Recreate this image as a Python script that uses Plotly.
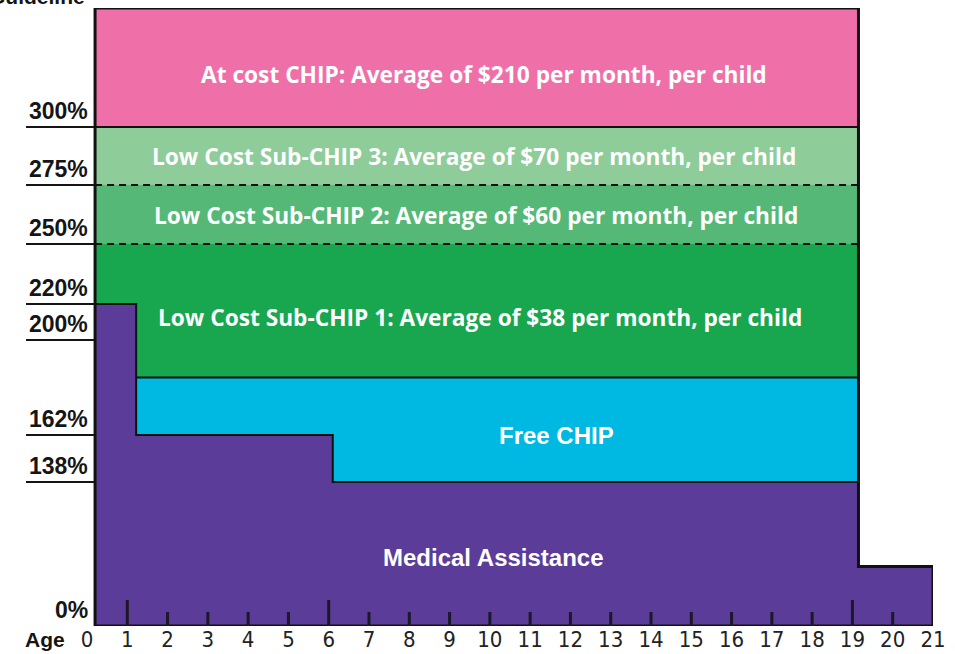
import numpy as np
import plotly.graph_objects as go

# ---- data -------------------------------------------------------------
ages = list(range(0, 22))                       # x tick labels
long_tick_ages = [1, 6, 19]                      # eligibility break ages
short_tick_ages = [a for a in range(1, 21) if a not in long_tick_ages]

# y scale (poverty-guideline %) is drawn non-linearly in the original
scale_pct = [0, 138, 162, 200, 220, 250, 275, 300, 350]
scale_pos = [0, 144, 191, 286, 322, 382, 441, 499, 618]
ylabels = ["0%", "138%", "162%", "200%", "220%", "250%", "275%", "300%"]
ylabel_pct = [0, 138, 162, 200, 220, 250, 275, 300]

# program boundaries
age_start, age_infant, age_child, age_end, age_max = 0.2, 1.22, 6.1, 19.15, 21
top_pct = 350
ma_infant, ma_young, ma_child, ma_adult = 220, 162, 138, 57
free_chip_top = 185
sub1_top, sub2_top, sub3_top = 250, 275, 300

band_names = [
    "At cost CHIP: Average of $210 per month, per child",
    "Low Cost Sub-CHIP 3: Average of $70 per month, per child",
    "Low Cost Sub-CHIP 2: Average of $60 per month, per child",
    "Low Cost Sub-CHIP 1: Average of $38 per month, per child",
    "Free CHIP",
    "Medical Assistance",
]
colors = {
    "pink": "#EF6FA8",
    "lgreen": "#8ECC99",
    "mgreen": "#55B877",
    "green": "#18A64F",
    "cyan": "#00B9E2",
    "purple": "#5B3C98",
}


def Y(p):
    return float(np.interp(p, scale_pct, scale_pos))


def poly(xs, ps):
    return list(xs) + [xs[0]], [Y(p) for p in ps] + [Y(ps[0])]


fig = go.Figure()


def add_fill(xs, ps, color):
    x, y = poly(xs, ps)
    fig.add_trace(go.Scatter(x=x, y=y, mode="lines", fill="toself",
                             fillcolor=color, line=dict(width=0),
                             hoverinfo="skip", showlegend=False))


def add_line(xs, ps, width=2, dash="solid", color="#111"):
    fig.add_trace(go.Scatter(x=list(xs), y=[Y(p) for p in ps], mode="lines",
                             line=dict(color=color, width=width, dash=dash),
                             hoverinfo="skip", showlegend=False))


# fills
add_fill([age_start, age_end, age_end, age_start], [sub3_top, sub3_top, top_pct, top_pct], colors["pink"])
add_fill([age_start, age_end, age_end, age_start], [sub2_top, sub2_top, sub3_top, sub3_top], colors["lgreen"])
add_fill([age_start, age_end, age_end, age_start], [sub1_top, sub1_top, sub2_top, sub2_top], colors["mgreen"])
add_fill([age_start, age_end, age_end, age_start], [0, 0, sub1_top, sub1_top], colors["green"])
add_fill([age_infant, age_end, age_end, age_infant], [0, 0, free_chip_top, free_chip_top], colors["cyan"])
ma_x = [age_start, age_start, age_infant, age_infant, age_child, age_child, age_end, age_end, age_max, age_max]
ma_p = [0, ma_infant, ma_infant, ma_young, ma_young, ma_child, ma_child, ma_adult, ma_adult, 0]
add_fill(ma_x, ma_p, colors["purple"])

# outlines
add_line([age_infant, age_end], [free_chip_top, free_chip_top])
add_line(ma_x[1:9], ma_p[1:9])
add_line([age_start, age_end], [sub3_top, sub3_top])
add_line([age_start, age_end], [sub2_top, sub2_top], dash="7px,5px")
add_line([age_start, age_end], [sub1_top, sub1_top], dash="7px,5px")
add_line([age_start, age_start, age_end, age_end, age_max, age_max, age_start],
         [0, top_pct, top_pct, ma_adult, ma_adult, 0, 0], width=3)

# band labels
band_font = dict(family="'Open Sans', 'Noto Sans', sans-serif", size=22.7, color="white")
arial_font = dict(family="'Liberation Sans', Arial, sans-serif", size=24, color="white")
band_x = [9.85, 9.6, 9.65, 9.75, 11.65, 10.1]
band_y = [
    Y(top_pct) - 66,
    (Y(sub2_top) + Y(sub3_top)) / 2,
    (Y(sub1_top) + Y(sub2_top)) / 2 - 1,
    (Y(ma_infant) + Y(200)) / 2 + 5,
    Y(ma_young),
    Y(ma_adult) + 9,
]
band_fonts = [band_font] * 4 + [arial_font] * 2
for name, bx, by, f in zip(band_names, band_x, band_y, band_fonts):
    fig.add_annotation(x=bx, y=by, xref="x", yref="y", text="<b>%s</b>" % name,
                       showarrow=False, font=f, xanchor="center", yanchor="middle")

# y labels with underlines
for lab, p in zip(ylabels, ylabel_pct):
    fig.add_annotation(x=0, y=Y(p), xref="paper", yref="y", text="<b>%s</b>" % lab,
                       showarrow=False, xanchor="right", yanchor="bottom", xshift=3, yshift=1,
                       font=dict(family="'Liberation Sans', Arial, sans-serif", size=23, color="#151515"))
    if p > 0:
        fig.add_shape(type="line", xref="paper", yref="y", xsizemode="pixel", xanchor=0,
                      x0=-61, x1=7, y0=Y(p), y1=Y(p), line=dict(color="#151515", width=2))

# partially cut title at top
fig.add_annotation(x=0, y=1, xref="paper", yref="paper", text="<b>Guideline</b>",
                   showarrow=False, xanchor="right", yanchor="bottom", xshift=0, yshift=-2,
                   font=dict(family="'Liberation Sans Narrow', 'Liberation Sans', Arial, sans-serif",
                             size=21, color="#151515"))

# Age label
fig.add_annotation(x=0, y=0, xref="paper", yref="paper", text="<b>Age</b>", showarrow=False,
                   xanchor="right", yanchor="middle", xshift=-20, yshift=-13,
                   font=dict(family="'Liberation Sans Narrow', 'Liberation Sans', Arial, sans-serif",
                             size=21, color="#151515"))

# tick marks
for a in short_tick_ages + long_tick_ages:
    ln = 26 if a in long_tick_ages else 14
    fig.add_shape(type="line", xref="x", yref="y", ysizemode="pixel", yanchor=0,
                  x0=a, x1=a, y0=0, y1=ln, line=dict(color="#1c1828", width=3))

fig.update_layout(
    width=955, height=654,
    margin=dict(l=87, r=22, t=8, b=28, autoexpand=False),
    plot_bgcolor="white", paper_bgcolor="white",
    xaxis=dict(range=[0, 21], tickvals=ages, ticktext=[str(a) for a in ages],
               showgrid=False, zeroline=False, showline=False, ticks="",
               automargin=False, ticklabelstandoff=-2,
               tickfont=dict(family="'Liberation Sans Narrow', 'DejaVu Sans Condensed', sans-serif",
                             size=22, color="#222")),
    yaxis=dict(range=[0, 618], visible=False, showgrid=False, zeroline=False, automargin=False),
)

fig.write_html("out.html", config={"displayModeBar": False},
               post_script="document.body.style.margin='0px';document.body.style.overflow='hidden';")
